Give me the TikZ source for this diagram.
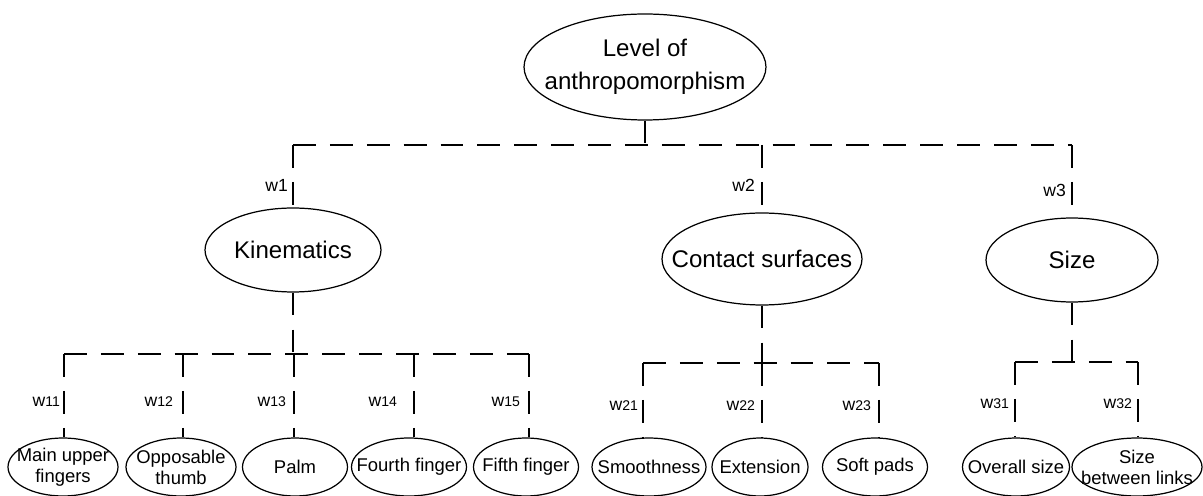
\documentclass[tikz,border=0pt]{standalone}
\usepackage{fontspec}
\setmainfont{Liberation Sans}
\usetikzlibrary{shapes.geometric}
\newcommand\ovalnode[6]{%
  \node[oval,minimum width=#3,minimum height=#4] (#1) at (#2) {};
  \node[#5] (#1-t) at (#1.center) {#6};}
\begin{document}
\begin{tikzpicture}[x=0.02cm,y=-0.02cm,
 oval/.style={ellipse,draw,line width=0.7pt,inner sep=0pt},
 big/.style={align=center,inner sep=0pt,font=\fontsize{13.7}{18.5}\selectfont},
 small/.style={align=center,inner sep=0pt,font=\fontsize{10.5}{12}\selectfont},
 dl/.style={line width=0.8pt,dash pattern=on 13pt off 8pt},
 wl/.style={anchor=east,font=\fontsize{10}{12}\selectfont,inner sep=1pt}]
\useasboundingbox (0,0) rectangle (1203,496);
% level 1
\ovalnode{root}{645,67}{4.84cm}{2.12cm}{big}{Level of\\anthropomorphism}
% level 2
\ovalnode{kin}{293,250}{3.52cm}{1.68cm}{big}{Kinematics}
\ovalnode{con}{762,259}{4.0cm}{1.84cm}{big}{Contact surfaces}
\ovalnode{siz}{1072,260}{3.44cm}{1.68cm}{big}{Size}
% level 3
\ovalnode{k1}{63,467}{2.2cm}{1.16cm}{small}{Main upper\\fingers}
\ovalnode{k2}{181,467}{2.2cm}{1.16cm}{small}{Opposable\\thumb}
\ovalnode{k3}{295,467}{2.1cm}{1.16cm}{small}{Palm}
\ovalnode{k4}{409,467}{2.3cm}{1.16cm}{small}{Fourth finger}
\ovalnode{k5}{526,467}{2.1cm}{1.16cm}{small}{Fifth finger}
\ovalnode{c1}{649,467}{2.28cm}{1.16cm}{small}{Smoothness}
\ovalnode{c2}{760,467}{1.92cm}{1.16cm}{small}{Extension}
\ovalnode{c3}{875,467}{2.1cm}{1.16cm}{small}{Soft pads}
\ovalnode{s1}{1016,467}{2.14cm}{1.16cm}{small}{Overall size}
\ovalnode{s2}{1137,467}{2.6cm}{1.16cm}{small}{Size\\between links}
% bar 1
\coordinate (r0) at (645,145);
\coordinate (a1) at (293,145);
\coordinate (a2) at (762,145);
\coordinate (a3) at (1072,145);
\draw[dl] (root.south) -- (r0);
\draw[dl] (a1) -- (a3);
\draw[dl] (a1) -- (kin.north);
\draw[dl] (a2) -- (con.north);
\draw[dl] (a3) -- (siz.north);
\node[wl] at (290,185) {w1};
\node[wl] at (757,185) {w2};
\node[wl] at (1068,190) {w3};
% bar kinematics
\coordinate (kb) at (293,354);
\coordinate (b1) at (64,354);
\coordinate (b2) at (183,354);
\coordinate (b3) at (294,354);
\coordinate (b4) at (414,354);
\coordinate (b5) at (529,354);
\draw[dl] (kin.south) -- (kb);
\draw[dl] (b1) -- (b5);
\draw[dl] (b1) -- (b1 |- k1.north);
\draw[dl] (b2) -- (b2 |- k2.north);
\draw[dl] (b3) -- (b3 |- k3.north);
\draw[dl] (b4) -- (b4 |- k4.north);
\draw[dl] (b5) -- (b5 |- k5.north);
\node[wl] at (62,402) {w{\footnotesize 11}};
\node[wl] at (175,402) {w{\footnotesize 12}};
\node[wl] at (288,402) {w{\footnotesize 13}};
\node[wl] at (399,402) {w{\footnotesize 14}};
\node[wl] at (522,402) {w{\footnotesize 15}};
% bar contact
\coordinate (cb) at (762,363);
\coordinate (d1) at (643,363);
\coordinate (d2) at (762,363);
\coordinate (d3) at (879,363);
\draw[dl] (con.south) -- (cb);
\draw[dl] (d1) -- (d3);
\draw[dl] (d1) -- (d1 |- c1.north);
\draw[dl] (d2) -- (d2 |- c2.north);
\draw[dl] (d3) -- (d3 |- c3.north);
\node[wl] at (640,406) {w{\footnotesize 21}};
\node[wl] at (757,406) {w{\footnotesize 22}};
\node[wl] at (873,406) {w{\footnotesize 23}};
% bar size
\coordinate (sb) at (1072,362);
\coordinate (e1) at (1015,362);
\coordinate (e2) at (1138,362);
\draw[dl] (siz.south) -- (sb);
\draw[dl] (e1) -- (e2);
\draw[dl] (e1) -- (e1 |- s1.north);
\draw[dl] (e2) -- (e2 |- s2.north);
\node[wl] at (1011,404) {w{\footnotesize 31}};
\node[wl] at (1134,404) {w{\footnotesize 32}};
\end{tikzpicture}
\end{document}
